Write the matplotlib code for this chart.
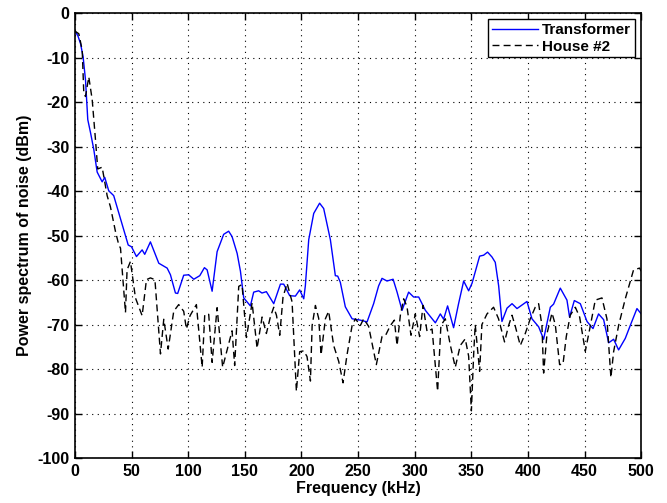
import matplotlib
matplotlib.use("Agg")
import matplotlib.pyplot as plt

# Transformer noise spectrum
freq_tr = [0, 2.5, 4.9, 7.2, 9.3, 11.3, 13.7, 16.6, 19.6, 24, 26.3, 29.8, 34.2, 40.2,
           47, 49.9, 54.3, 59.3, 61.6, 66.6, 74, 81.4, 84.3, 88.7, 90.7, 96, 100.4,
           104.9, 110.2, 114.3, 116.7, 121.1, 125.5, 131.3, 135.7, 138.7, 143.2, 146.1,
           149, 154.9, 157.8, 162.2, 165.1, 169, 175.5, 181.4, 184.3, 189.6, 194.6,
           198.4, 202, 203.4, 206.4, 210.8, 216, 219.6, 225.5, 229.9, 232, 234.3,
           238.7, 244.7, 252, 257.9, 263.7, 268.1, 271.1, 275.5, 280.9, 284.4, 288.8,
           294.6, 299, 303.5, 309.4, 318.2, 322.6, 325.5, 329, 334.3, 338.7, 343.2,
           347.6, 350.6, 357.3, 360.8, 364.3, 368.2, 371.1, 374.1, 377, 381.5, 385.9,
           390.3, 399.1, 403.5, 409.4, 413.8, 419.7, 422.6, 428.5, 434.4, 436.7,
           440.9, 446.2, 452.1, 457.4, 462.3, 466.8, 471.2, 475.6, 480, 485.9, 490.3,
           496.2, 500]
power_tr = [-4, -5, -6.8, -9.8, -15, -23.9, -26.8, -30.6, -35.7, -37.9, -36.9, -39.9,
            -41, -46.2, -52.1, -52.5, -54.7, -53.2, -54.2, -51.4, -56.2, -57.3, -58.8,
            -62.9, -63, -58.9, -58.8, -59.8, -59, -57.2, -57.7, -62.5, -53.6, -49.7,
            -49, -50.2, -54, -58, -64, -65.8, -62.7, -62.4, -62.9, -62.6, -65.3, -60.9,
            -60.9, -63.5, -63.6, -62.2, -64.2, -61.3, -50.9, -45, -42.7, -43.9, -50.9,
            -59, -59.1, -60.5, -66, -68.7, -69, -69.4, -65.3, -61.3, -59.6, -60.2,
            -59.8, -62.7, -66.8, -62.7, -63.8, -63.8, -66.8, -69.6, -67.6, -68.8,
            -65.8, -70.7, -65.3, -60.2, -62.4, -60.7, -54.6, -54.4, -53.7, -54.8, -56,
            -61.3, -69.3, -66.3, -65.3, -66.4, -64.8, -68.7, -70.5, -73.3, -66.1,
            -65.4, -61.8, -64.5, -68.3, -64.6, -65.3, -69.3, -70.9, -67.6, -68.9,
            -74.1, -73.3, -75.7, -73.1, -70.2, -66.4, -67.6]

# House #2 noise spectrum
freq_h2 = [0, 3.4, 6.4, 7.8, 9.3, 12.2, 15.2, 18.1, 20.1, 24, 28.4, 31.3, 35.7, 38.7,
           40.2, 44.6, 46, 49, 53.4, 59.3, 63.1, 66.6, 70.6, 75.5, 78.4, 82.3, 87.2,
           91.6, 96, 98.4, 101.6, 107.2, 112.3, 114.6, 118.1, 121.1, 125.5, 130.4,
           135.7, 138.7, 141, 144.6, 147.5, 151.4, 156.4, 160.8, 165.2, 169, 172.5,
           175.5, 177.9, 180.8, 183.7, 187.3, 191.7, 195.5, 198.4, 202, 204.9, 207.9,
           209.4, 212.3, 215.2, 217.3, 221.1, 224, 228.4, 232.9, 236.7, 240.2, 244.7,
           247.6, 252, 254.9, 259.3, 266.1, 271.1, 274.1, 278.5, 282, 284.4, 287.3,
           290.2, 293.1, 296.7, 300.5, 304.3, 307.3, 310.9, 315.3, 320.2, 323.1, 327,
           331.4, 335.8, 340.2, 344.6, 347.6, 350, 352, 353.4, 357.3, 359.3, 363.8,
           369.6, 374, 379.3, 382.9, 385.9, 388.8, 393.2, 397.6, 402, 406.4, 409.4,
           412.3, 413.8, 416.8, 421.2, 424.1, 427.9, 430.9, 433.8, 437.3, 441.8,
           445.6, 450.6, 454.4, 459.4, 465.3, 469.7, 473.2, 475.6, 480, 485.9, 493.2,
           498.5, 500]
power_h2 = [-4, -4.6, -8.3, -18, -18.7, -14.3, -19.4, -28.4, -35, -34.6, -41, -43.5,
            -49, -52.1, -52.8, -67.3, -57.7, -55.8, -64, -68, -59.9, -59.5, -59.9,
            -76.6, -68.8, -75.5, -67, -65.5, -67, -71, -68, -65.5, -79.6, -67.7, -67.7,
            -78.5, -66.2, -79.6, -74.4, -71.4, -79.2, -61.4, -61, -72.9, -65.1, -75.3,
            -68.3, -72, -68.3, -66.1, -67.9, -72.4, -63.8, -60.7, -64.9, -85, -76.1,
            -75.9, -77.2, -82.7, -70.2, -65.7, -68.6, -76.8, -68.7, -67, -74.7, -78.3,
            -83.1, -76.8, -70.2, -68.7, -70.2, -68.7, -70.4, -79, -72.7, -72.5, -70.2,
            -69, -74.7, -67.9, -64.2, -65.9, -72.4, -67.6, -72.7, -65.7, -71.6, -71,
            -85, -70.2, -68.7, -74.6, -79.6, -74.7, -73.2, -77.1, -89.4, -76.8, -70,
            -80.5, -70, -67.6, -66.1, -68.7, -73.9, -70.2, -67.9, -70.4, -74.7, -72,
            -68.7, -66.1, -65.3, -70.2, -80.9, -72, -67.4, -70, -79, -78.9, -72.7,
            -67.9, -66.1, -68.3, -76, -71.1, -64.5, -64, -68.7, -81.9, -76.1, -70.2,
            -64.2, -57.7, -57.3, -58]

x_ticks = list(range(0, 501, 50))
y_ticks = list(range(-100, 1, 10))

plt.rcParams['font.family'] = ['Liberation Sans', 'DejaVu Sans']
plt.rcParams['font.weight'] = 'bold'
plt.rcParams['axes.unicode_minus'] = False

fig = plt.figure(figsize=(6.67, 5.03), dpi=100)
ax = fig.add_axes([0.1124, 0.0895, 0.849, 0.884])

ax.plot(freq_tr, power_tr, color='blue', lw=1.0, label='Transformer')
ax.plot(freq_h2, power_h2, color='black', lw=1.0, dashes=(5, 3), label='House #2')

ax.set_xlim(0, 500)
ax.set_ylim(-100, 0)
ax.set_xticks(x_ticks)
ax.set_yticks(y_ticks)
ax.tick_params(direction='in', top=True, right=True, length=5, width=1,
               labelsize=11.5, pad=4)
for lab in ax.get_xticklabels() + ax.get_yticklabels():
    lab.set_fontweight('bold')
ax.grid(True, color='black', linestyle=(0, (1, 4)), lw=0.8)
for sp in ax.spines.values():
    sp.set_linewidth(1.2)

ax.set_xlabel('Frequency (kHz)', fontsize=11.5, fontweight='bold', labelpad=2)
ax.set_ylabel('Power spectrum of noise (dBm)', fontsize=11.5, fontweight='bold', labelpad=4)

leg = ax.legend(loc='upper right', fontsize=11, frameon=True, fancybox=False,
                framealpha=1, edgecolor='black', handlelength=3.0,
                borderaxespad=0.4, borderpad=0.25, labelspacing=0.15, handletextpad=0.3)
leg.get_frame().set_linewidth(1.0)
for t in leg.get_texts():
    t.set_fontweight('bold')

fig.savefig('out.png', dpi=100)
